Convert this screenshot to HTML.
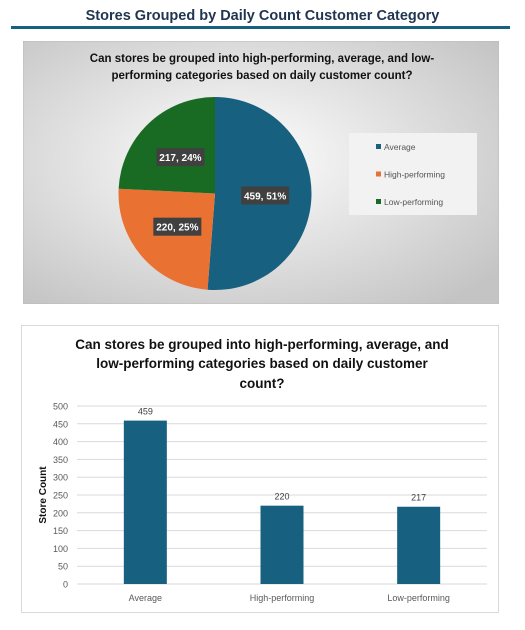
<!DOCTYPE html>
<html><head><meta charset="utf-8"><style>
body{margin:0;width:525px;height:630px;background:#fff;font-family:"Liberation Sans",sans-serif;position:relative;overflow:hidden}
</style></head><body>
<div style="position:absolute;left:0;width:525px;top:8px;text-align:center;font-weight:bold;font-size:14.5px;color:#1f3550">Stores Grouped by Daily Count Customer Category</div>
<div style="position:absolute;left:11px;top:26px;width:499px;height:3px;background:#17607f"></div>

<svg style="position:absolute;left:23px;top:41px" width="476" height="263" viewBox="23 41 476 263">
<defs><radialGradient id="bg" cx="45%" cy="45%" r="70%"><stop offset="0" stop-color="#ffffff"/><stop offset="1" stop-color="#c4c4c4"/></radialGradient></defs>
<rect x="23" y="41" width="476" height="263" fill="url(#bg)" stroke="#bbb"/>
<text x="262" y="62" text-anchor="middle" font-size="11.5" font-weight="bold" fill="#111">Can stores be grouped into high-performing, average, and low-</text>
<text x="262" y="79" text-anchor="middle" font-size="11.5" font-weight="bold" fill="#111">performing categories based on daily customer count?</text>
<g id="pie"></g>
<rect x="349" y="133" width="128" height="82" fill="#f2f2f2"/>
<g id="legend"></g>
</svg>

<svg style="position:absolute;left:0;top:0" width="525" height="630">
<rect x="21.5" y="325.5" width="477" height="287" fill="#fff" stroke="#d9d9d9"/>
<text x="262" y="349" text-anchor="middle" font-size="13.5" font-weight="bold" fill="#111">Can stores be grouped into high-performing, average, and</text>
<text x="262" y="368" text-anchor="middle" font-size="13.5" font-weight="bold" fill="#111">low-performing categories based on daily customer</text>
<text x="262" y="388" text-anchor="middle" font-size="13.5" font-weight="bold" fill="#111">count?</text>
<text transform="translate(46,495) rotate(-90)" text-anchor="middle" font-size="10" font-weight="bold" fill="#111">Store Count</text>
<g id="bars"></g>
</svg>
<script>
const categories=["Average","High-performing","Low-performing"];
const values=[459,220,217];
const colors=["#17607f","#e97132","#196b24"];
const yTicks=[0,50,100,150,200,250,300,350,400,450,500];
const NS="http://www.w3.org/2000/svg";
function mk(t,a,p){const e=document.createElementNS(NS,t);for(const k in a)e.setAttribute(k,a[k]);p.appendChild(e);return e;}
// pie
const pie=document.getElementById('pie');
const total=values.reduce((a,b)=>a+b,0);
const cx=215,cy=193.5,r=96.5;
let ang=-Math.PI/2;
const labelPos=[];
values.forEach((v,i)=>{
  const a0=ang,a1=ang+v/total*2*Math.PI;ang=a1;
  const large=(a1-a0)>Math.PI?1:0;
  const p=mk('path',{d:`M${cx},${cy} L${cx+r*Math.cos(a0)},${cy+r*Math.sin(a0)} A${r},${r} 0 ${large} 1 ${cx+r*Math.cos(a1)},${cy+r*Math.sin(a1)} Z`,fill:colors[i]},pie);
  
  
  const am=(a0+a1)/2, lr=r*0.52;
  const lx=cx+lr*Math.cos(am), ly=cy+lr*Math.sin(am);
  const pct=Math.round(v/total*100);
  const txt=v+', '+pct+'%';
  const rc=mk('rect',{x:lx-24,y:ly-9,width:48,height:18,fill:'#404040'},pie);
  
  
  const t=mk('text',{x:lx,y:ly+4,'text-anchor':'middle','font-size':'10','font-weight':'bold',fill:'#fff'},pie);
  t.textContent=txt;
  
  
});
const leg=document.getElementById('legend');
categories.forEach((c,i)=>{
  const y=147+i*27.5;
  const s=mk('rect',{x:376,y:y-3,width:5,height:5,fill:colors[i]},leg);
  
  
  const t=mk('text',{x:384,y:y+3,'font-size':'8.5',fill:'#555'},leg);
  t.textContent=c;
  
  
});
// bars
const bars=document.getElementById('bars');
const x0=77,x1=487,yTop=406,yBot=584,ymax=500;
const yS=v=>yBot-(v/ymax)*(yBot-yTop);
const band=(x1-x0)/categories.length;
const xC=i=>x0+band*(i+0.5);
yTicks.forEach(t=>{
  const l=mk('line',{x1:x0,x2:x1,y1:yS(t),y2:yS(t),stroke:'#d9d9d9','stroke-width':1},bars);
  
  
  const tx=mk('text',{x:68,y:yS(t)+3.5,'text-anchor':'end','font-size':'9',fill:'#595959'},bars);
  tx.textContent=t;
  
  
});
values.forEach((v,i)=>{
  const w=43;
  const b=mk('rect',{x:xC(i)-w/2,y:yS(v),width:w,height:yBot-yS(v),fill:'#17607f'},bars);
  
  
  const vl=mk('text',{x:xC(i),y:yS(v)-6,'text-anchor':'middle','font-size':'9',fill:'#404040'},bars);
  vl.textContent=v;
  
  
  const cl=mk('text',{x:xC(i),y:601,'text-anchor':'middle','font-size':'9',fill:'#595959'},bars);
  cl.textContent=categories[i];
  
  
});
</script>
</body></html>
